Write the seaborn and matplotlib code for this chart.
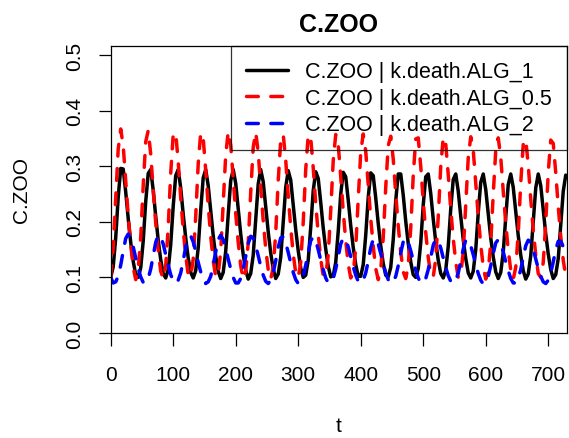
import numpy as np
import pandas as pd
import matplotlib
matplotlib.use("Agg")
import matplotlib.pyplot as plt
import seaborn as sns

# ---------------- data ----------------
t = np.arange(0, 729, 4)  # sampling grid, days

black = [
    0.100, 0.119, 0.171, 0.244, 0.296, 0.295, 0.254, 0.206, 0.163, 0.129, 0.105,
    0.100, 0.117, 0.165, 0.236, 0.287, 0.294, 0.257, 0.210, 0.167, 0.132, 0.107,
    0.099, 0.114, 0.159, 0.228, 0.283, 0.294, 0.261, 0.214, 0.171, 0.135, 0.109,
    0.099, 0.112, 0.153, 0.221, 0.279, 0.294, 0.265, 0.219, 0.175, 0.138, 0.111,
    0.098, 0.109, 0.147, 0.213, 0.274, 0.294, 0.269, 0.223, 0.178, 0.141, 0.113,
    0.097, 0.107, 0.140, 0.205, 0.268, 0.294, 0.272, 0.227, 0.182, 0.144, 0.115,
    0.098, 0.106, 0.136, 0.198, 0.262, 0.292, 0.275, 0.231, 0.186, 0.148, 0.117, 0.100,
    0.104, 0.131, 0.190, 0.256, 0.290, 0.278, 0.235, 0.189, 0.151, 0.120, 0.101,
    0.103, 0.127, 0.183, 0.250, 0.289, 0.281, 0.239, 0.193, 0.154, 0.123, 0.102,
    0.102, 0.123, 0.176, 0.244, 0.288, 0.283, 0.243, 0.197, 0.157, 0.125, 0.104,
    0.101, 0.118, 0.168, 0.238, 0.286, 0.286, 0.248, 0.201, 0.161, 0.128, 0.105,
    0.100, 0.116, 0.162, 0.230, 0.281, 0.286, 0.251, 0.205, 0.164, 0.131, 0.107,
    0.099, 0.113, 0.156, 0.223, 0.276, 0.286, 0.255, 0.210, 0.168, 0.134, 0.108,
    0.099, 0.111, 0.150, 0.216, 0.271, 0.286, 0.258, 0.214, 0.171, 0.137, 0.110,
    0.098, 0.109, 0.145, 0.208, 0.267, 0.286, 0.262, 0.218, 0.175, 0.140, 0.112,
    0.097, 0.106, 0.139, 0.201, 0.261, 0.286, 0.265, 0.222, 0.178, 0.142, 0.114,
    0.098, 0.105, 0.134, 0.194, 0.255, 0.284,
]

red = [
    0.100, 0.153, 0.244, 0.331, 0.367, 0.337, 0.274, 0.211, 0.159, 0.118, 0.096,
    0.114, 0.171, 0.265, 0.344, 0.364, 0.322, 0.258, 0.198, 0.149, 0.111,
    0.098, 0.121, 0.190, 0.287, 0.357, 0.360, 0.308, 0.243, 0.186, 0.139, 0.105,
    0.101, 0.133, 0.210, 0.304, 0.360, 0.350, 0.293, 0.229, 0.174, 0.130, 0.101,
    0.105, 0.147, 0.232, 0.320, 0.362, 0.338, 0.278, 0.215, 0.163, 0.121, 0.097,
    0.111, 0.162, 0.253, 0.334, 0.361, 0.325, 0.262, 0.202, 0.152, 0.114,
    0.097, 0.118, 0.180, 0.274, 0.347, 0.357, 0.311, 0.247, 0.190, 0.142, 0.108,
    0.100, 0.127, 0.199, 0.294, 0.356, 0.351, 0.297, 0.233, 0.178, 0.133, 0.103,
    0.103, 0.140, 0.220, 0.310, 0.357, 0.339, 0.281, 0.219, 0.166, 0.124, 0.099,
    0.107, 0.153, 0.241, 0.325, 0.358, 0.327, 0.266, 0.206, 0.156, 0.116,
    0.096, 0.114, 0.171, 0.262, 0.337, 0.354, 0.313, 0.251, 0.193, 0.146, 0.110,
    0.098, 0.121, 0.188, 0.283, 0.349, 0.351, 0.300, 0.237, 0.181, 0.136, 0.104,
    0.101, 0.133, 0.209, 0.299, 0.352, 0.340, 0.285, 0.223, 0.170, 0.128, 0.100,
    0.105, 0.146, 0.230, 0.315, 0.353, 0.329, 0.270, 0.210, 0.159, 0.119, 0.097,
    0.111, 0.162, 0.250, 0.328, 0.351, 0.316, 0.255, 0.197, 0.149, 0.113,
    0.097, 0.118, 0.179, 0.270, 0.340, 0.348, 0.302, 0.241, 0.185, 0.140, 0.107,
    0.100, 0.127, 0.198, 0.289, 0.347, 0.341, 0.288, 0.227, 0.174, 0.131, 0.102,
]

blue = [
    0.100, 0.090, 0.092, 0.102, 0.122, 0.147, 0.170, 0.178, 0.171, 0.155, 0.135, 0.116, 0.101, 0.091,
    0.090, 0.098, 0.115, 0.139, 0.163, 0.176, 0.174, 0.160, 0.141, 0.122, 0.105, 0.094,
    0.089, 0.095, 0.108, 0.130, 0.155, 0.173, 0.175, 0.164, 0.147, 0.127, 0.110, 0.097, 0.089,
    0.092, 0.102, 0.122, 0.146, 0.168, 0.176, 0.168, 0.152, 0.133, 0.115, 0.100, 0.090,
    0.090, 0.098, 0.115, 0.138, 0.161, 0.174, 0.171, 0.157, 0.139, 0.120, 0.104, 0.093,
    0.089, 0.095, 0.108, 0.130, 0.154, 0.171, 0.173, 0.162, 0.145, 0.126, 0.109, 0.096, 0.089,
    0.092, 0.102, 0.122, 0.145, 0.166, 0.173, 0.166, 0.150, 0.131, 0.114, 0.099, 0.090,
    0.090, 0.098, 0.115, 0.137, 0.160, 0.171, 0.168, 0.155, 0.137, 0.119, 0.104, 0.093,
    0.089, 0.095, 0.108, 0.129, 0.153, 0.169, 0.170, 0.160, 0.143, 0.124, 0.108, 0.096, 0.089,
    0.092, 0.102, 0.121, 0.144, 0.164, 0.171, 0.163, 0.148, 0.130, 0.113, 0.099, 0.090,
    0.090, 0.098, 0.114, 0.136, 0.158, 0.169, 0.166, 0.153, 0.135, 0.118, 0.103, 0.093,
    0.089, 0.095, 0.108, 0.129, 0.151, 0.167, 0.168, 0.157, 0.141, 0.123, 0.107, 0.095, 0.088,
    0.092, 0.102, 0.121, 0.143, 0.162, 0.168, 0.161, 0.146, 0.128, 0.112, 0.098, 0.090,
    0.090, 0.098, 0.114, 0.136, 0.157, 0.167, 0.163, 0.151, 0.133, 0.116, 0.102, 0.092,
    0.089, 0.095, 0.108, 0.128, 0.150, 0.165, 0.165, 0.155, 0.139,
]

series_labels = ["C.ZOO | k.death.ALG_1", "C.ZOO | k.death.ALG_0.5", "C.ZOO | k.death.ALG_2"]
series_colors = ["black", "#FF0000", "#0000FF"]
x_ticks = [0, 100, 200, 300, 400, 500, 600, 700]
y_ticks = [0.0, 0.1, 0.2, 0.3, 0.4, 0.5]
y_tick_labels = ["0.0", "0.1", "0.2", "0.3", "0.4", "0.5"]
title_text = "C.ZOO"
x_label = "t"
y_label = "C.ZOO"

# ---------------- style ----------------
sns.set_style("ticks")
plt.rcParams["font.family"] = ["Liberation Sans", "DejaVu Sans"]
for key in ["text.color", "axes.labelcolor", "xtick.color", "ytick.color", "axes.edgecolor"]:
    plt.rcParams[key] = "black"

W, H = 569, 439
fig = plt.figure(figsize=(W / 100, H / 100), dpi=100, facecolor="white")
L, R, T, B = 110.7, 567.0, 47.0, 334.0
ax = fig.add_axes([L / W, 1 - B / H, (R - L) / W, (B - T) / H])

df = pd.DataFrame({"t": t, "black": black, "red": red, "blue": blue})
lw = 2.5
for col, c, lab in zip(["black", "red", "blue"], series_colors, series_labels):
    sns.lineplot(data=df, x="t", y=col, color=c, lw=lw, ax=ax, label=lab)

lines = ax.get_lines()[:3]
lines[0].set_solid_capstyle("round")
for ln in lines[1:]:
    ln.set_dashes((3.4, 3.6))
    ln.set_dash_capstyle("round")

ax.set_xlim(0, 730)
ax.set_ylim(0, 0.5162)
ax.set_xticks(x_ticks)
ax.set_xticklabels([str(v) for v in x_ticks])
ax.set_yticks(y_ticks)
ax.set_yticklabels(y_tick_labels, rotation=90, va="center")
ax.tick_params(direction="out", length=9, width=0.9, color="black",
               labelsize=15, labelcolor="black")
ax.tick_params(axis="x", pad=14)
ax.tick_params(axis="y", pad=10)
for sp in ax.spines.values():
    sp.set_visible(True)
    sp.set_linewidth(0.9)
    sp.set_color("black")
ax.set_xlabel("")
ax.set_ylabel("")

fig.text(338.8 / W, 1 - 32 / H, title_text, ha="center", va="baseline",
         fontsize=18, fontweight="bold")
fig.text(338.8 / W, 1 - 432 / H, x_label, ha="center", va="baseline", fontsize=15)
fig.text(11.5 / W, 1 - 190.5 / H, y_label, ha="left", va="center", rotation=90, fontsize=15)

leg = ax.legend(lines, series_labels, loc="upper right", bbox_to_anchor=(1, 1),
                borderaxespad=0, fontsize=15.5, handlelength=1.95, handletextpad=0.8,
                labelspacing=0.26, borderpad=0.7, fancybox=False, frameon=True)
frame = leg.get_frame()
frame.set_edgecolor("black")
frame.set_facecolor("none")
frame.set_linewidth(0.9)

fig.savefig("out.png", dpi=100, facecolor="white")
